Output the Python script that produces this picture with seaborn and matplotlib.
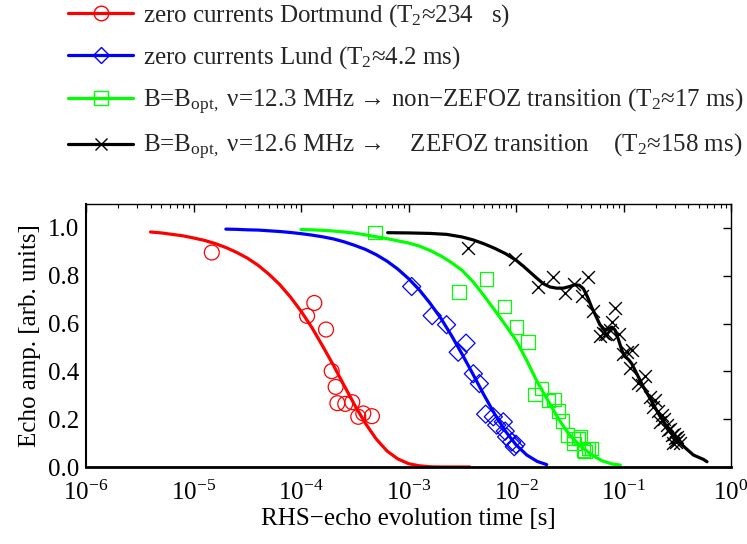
import numpy as np
import pandas as pd
import matplotlib
matplotlib.use("Agg")
import matplotlib.pyplot as plt
from matplotlib.lines import Line2D
from matplotlib.ticker import LogLocator, FixedLocator, NullFormatter
import seaborn as sns

# ---- measured echo amplitudes (time in s, amplitude in arb. units) ----
dortmund_t = [1.48e-5, 1.14e-4, 1.33e-4, 1.71e-4, 1.93e-4, 2.10e-4, 2.18e-4,
              2.58e-4, 3.00e-4, 3.41e-4, 3.80e-4, 4.57e-4]
dortmund_a = [0.897, 0.632, 0.686, 0.575, 0.401, 0.335, 0.267,
              0.264, 0.271, 0.210, 0.224, 0.2125]

lund_t = [1.07e-3, 1.66e-3, 2.26e-3, 2.90e-3, 3.43e-3, 4.01e-3, 4.56e-3, 5.22e-3,
          6.15e-3, 6.61e-3, 7.62e-3, 7.94e-3, 8.18e-3, 9.12e-3, 9.64e-3, 1.00e-2]
lund_a = [0.755, 0.633, 0.595, 0.480, 0.518, 0.390, 0.349, 0.221,
          0.210, 0.175, 0.189, 0.150, 0.126, 0.105, 0.085, 0.095]

nonzefoz_t = [4.88e-4, 2.95e-3, 5.33e-3, 7.78e-3, 1.01e-2, 1.29e-2, 1.50e-2,
              1.73e-2, 2.00e-2, 2.25e-2, 2.48e-2, 2.72e-2, 3.00e-2, 3.41e-2,
              3.47e-2, 3.80e-2, 3.99e-2, 4.23e-2, 4.39e-2, 4.71e-2, 5.06e-2]
nonzefoz_a = [0.980, 0.733, 0.786, 0.671, 0.585, 0.522, 0.303,
              0.328, 0.279, 0.283, 0.235, 0.192, 0.133, 0.120,
              0.099, 0.120, 0.126, 0.071, 0.064, 0.078, 0.078]

zefoz_t = [3.60e-3, 9.79e-3, 1.61e-2, 2.22e-2, 2.86e-2, 3.47e-2, 4.08e-2, 4.71e-2,
           5.24e-2, 6.04e-2, 6.40e-2, 6.73e-2, 6.97e-2, 7.48e-2, 7.76e-2, 8.41e-2,
           9.12e-2, 9.95e-2, 0.107, 0.119, 0.115, 0.137, 0.158, 0.148, 0.177,
           0.196, 0.190, 0.209, 0.226, 0.219, 0.240, 0.252, 0.261, 0.272, 0.281,
           0.292, 0.301, 0.313, 0.324, 0.291, 0.309, 0.339]
zefoz_a = [0.915, 0.872, 0.754, 0.793, 0.728, 0.765, 0.714, 0.796,
           0.652, 0.550, 0.562, 0.557, 0.557, 0.571, 0.608, 0.667,
           0.557, 0.474, 0.480, 0.490, 0.415, 0.352, 0.380, 0.342, 0.293,
           0.279, 0.251, 0.235, 0.217, 0.189, 0.200, 0.175, 0.154, 0.160, 0.133,
           0.140, 0.120, 0.125, 0.112, 0.099, 0.105, 0.100]

# ---- fitted decay curves ----
dortmund_fit_t = [3.98e-6, 5.01e-6, 6.31e-6, 7.94e-6, 1.00e-5, 1.26e-5, 1.58e-5,
                  2.00e-5, 2.51e-5, 3.16e-5, 3.98e-5, 5.01e-5, 6.31e-5, 7.94e-5,
                  1.00e-4, 1.26e-4, 1.58e-4, 2.00e-4, 2.51e-4, 3.16e-4, 3.98e-4,
                  5.01e-4, 6.31e-4, 7.94e-4, 1.00e-3, 1.26e-3, 1.58e-3, 2.00e-3,
                  2.51e-3, 3.72e-3]
dortmund_fit_a = [0.983, 0.979, 0.973, 0.967, 0.958, 0.948, 0.935,
                  0.918, 0.898, 0.874, 0.844, 0.807, 0.764, 0.712,
                  0.652, 0.584, 0.508, 0.426, 0.342, 0.259, 0.182,
                  0.117, 0.067, 0.034, 0.014, 0.005, 0.001, 0.000,
                  0.000, 0.000]

lund_fit_t = [2.00e-5, 2.51e-5, 3.16e-5, 3.98e-5, 5.01e-5, 6.31e-5, 7.94e-5,
              1.00e-4, 1.26e-4, 1.58e-4, 2.00e-4, 2.51e-4, 3.16e-4, 3.98e-4,
              5.01e-4, 6.31e-4, 7.94e-4, 1.00e-3, 1.26e-3, 1.58e-3, 2.00e-3,
              2.51e-3, 3.16e-3, 3.98e-3, 5.01e-3, 6.31e-3, 7.94e-3, 1.00e-2,
              1.26e-2, 1.58e-2, 1.93e-2]
lund_fit_a = [0.995, 0.994, 0.992, 0.991, 0.988, 0.985, 0.981,
              0.976, 0.970, 0.963, 0.954, 0.942, 0.927, 0.910,
              0.888, 0.861, 0.828, 0.788, 0.741, 0.686, 0.622,
              0.550, 0.471, 0.388, 0.303, 0.223, 0.151, 0.093,
              0.050, 0.023, 0.010]

nonzefoz_fit_t = [1.00e-4, 1.26e-4, 1.58e-4, 2.00e-4, 2.51e-4, 3.16e-4, 3.98e-4,
                  5.01e-4, 6.31e-4, 7.94e-4, 1.00e-3, 1.26e-3, 1.58e-3, 2.00e-3,
                  2.51e-3, 3.16e-3, 3.98e-3, 5.01e-3, 6.31e-3, 7.94e-3, 1.00e-2,
                  1.26e-2, 1.58e-2, 2.00e-2, 2.51e-2, 3.16e-2, 3.98e-2, 5.01e-2,
                  6.31e-2, 7.94e-2, 9.33e-2]
nonzefoz_fit_a = [0.993, 0.992, 0.990, 0.987, 0.983, 0.978, 0.971,
                  0.963, 0.955, 0.946, 0.937, 0.924, 0.906, 0.883,
                  0.855, 0.822, 0.775, 0.718, 0.657, 0.595, 0.530,
                  0.445, 0.355, 0.275, 0.198, 0.133, 0.088, 0.052,
                  0.026, 0.012, 0.008]

zefoz_fit_t = [6.40e-4, 1.00e-3, 1.58e-3, 2.26e-3, 3.16e-3, 3.98e-3, 5.01e-3,
               6.31e-3, 7.94e-3, 1.00e-2, 1.17e-2, 1.35e-2, 1.56e-2, 1.79e-2,
               2.07e-2, 2.39e-2, 2.75e-2, 3.16e-2, 3.54e-2, 3.89e-2, 4.23e-2,
               4.62e-2, 5.06e-2, 5.62e-2, 6.04e-2, 6.61e-2, 7.23e-2, 7.76e-2,
               8.32e-2, 8.95e-2, 9.62e-2, 0.103, 0.111, 0.119, 0.133, 0.153,
               0.177, 0.211, 0.252, 0.301, 0.361, 0.447, 0.553, 0.598]
zefoz_fit_a = [0.980, 0.979, 0.977, 0.973, 0.962, 0.950, 0.934,
               0.915, 0.893, 0.865, 0.840, 0.815, 0.790, 0.767,
               0.753, 0.748, 0.748, 0.755, 0.762, 0.760, 0.746,
               0.712, 0.668, 0.625, 0.595, 0.576, 0.576, 0.585, 0.574,
               0.535, 0.490, 0.462, 0.450, 0.433, 0.390, 0.335,
               0.286, 0.224, 0.168, 0.120, 0.087, 0.050, 0.032, 0.022]

labels = [
    "zero currents Dortmund (T$_\\mathrm{2}$≈234   s)",
    "zero currents Lund (T$_\\mathrm{2}$≈4.2 ms)",
    "B=B$_{\\mathrm{opt},}$ ν=12.3 MHz → non−ZEFOZ transition (T$_\\mathrm{2}$≈17 ms)",
    "B=B$_{\\mathrm{opt},}$ ν=12.6 MHz →    ZEFOZ transition    (T$_\\mathrm{2}$≈158 ms)",
]
colors = ["#ff0000", "#0000ff", "#00ff00", "#000000"]
markers = ["o", "D", "s", "x"]

xticks = [1e-6, 1e-5, 1e-4, 1e-3, 1e-2, 1e-1, 1e0]
yticks = [0.0, 0.2, 0.4, 0.6, 0.8, 1.0]

sns.set_theme(style="white")
plt.rcParams["font.family"] = ["Liberation Serif", "DejaVu Serif"]
plt.rcParams["mathtext.fontset"] = "custom"
plt.rcParams["mathtext.rm"] = "Liberation Serif"
plt.rcParams["mathtext.it"] = "Liberation Serif:italic"
plt.rcParams["mathtext.bf"] = "Liberation Serif:bold"
FS = 18

fig = plt.figure(figsize=(7.47, 5.44), dpi=100)
ax = fig.add_axes([86 / 747, 1 - 467 / 544, 645 / 747, 263 / 544])

fits = [(dortmund_fit_t, dortmund_fit_a), (lund_fit_t, lund_fit_a),
        (nonzefoz_fit_t, nonzefoz_fit_a), (zefoz_fit_t, zefoz_fit_a)]
meas = [(dortmund_t, dortmund_a), (lund_t, lund_a),
        (nonzefoz_t, nonzefoz_a), (zefoz_t, zefoz_a)]
msize = [115, 85, 95, 85]

for (ft, fa), c in zip(fits, colors):
    df = pd.DataFrame({"t": ft, "a": fa})
    sns.lineplot(data=df, x="t", y="a", ax=ax, color=c, lw=2.3,
                 estimator=None, sort=False)

for (mt, ma), c, m, s in zip(meas, colors, markers, msize):
    df = pd.DataFrame({"t": mt, "a": ma})
    if m == "x":
        sns.scatterplot(data=df, x="t", y="a", ax=ax, marker="x", s=s,
                        color=c, linewidth=1.0, zorder=3)
    else:
        sns.scatterplot(data=df, x="t", y="a", ax=ax, marker=m, s=s,
                        fc="none", ec=c, linewidth=0.9, zorder=3)

ax.set_xscale("log")
ax.set_xlim(1e-6, 1e0)
ax.set_ylim(0, 1.1)
ax.xaxis.set_major_locator(FixedLocator(xticks))
ax.xaxis.set_minor_locator(LogLocator(base=10, subs=np.arange(2, 10), numticks=20))
ax.xaxis.set_minor_formatter(NullFormatter())
ax.set_yticks(yticks)
ax.set_yticklabels([f"{v:.1f}" for v in yticks])

ax.tick_params(axis="both", which="both", direction="in", top=True, right=True,
               labelsize=FS, colors="black")
ax.tick_params(axis="both", which="major", length=6, width=1.0)
ax.tick_params(axis="y", which="major", pad=5)
ax.tick_params(axis="x", which="major", pad=10)
ax.tick_params(axis="x", which="minor", length=3, width=0.8)
for sp in ax.spines.values():
    sp.set_color("black")
    sp.set_linewidth(1.0)
ax.spines["bottom"].set_linewidth(2.0)
ax.spines["left"].set_linewidth(1.5)

ax.set_xlabel("RHS−echo evolution time [s]", fontsize=FS, color="black", labelpad=2)
ax.set_ylabel("Echo amp. [arb. units]", fontsize=FS, color="black", labelpad=5)

handles = [Line2D([], [], color=c, lw=2.3, marker=m, markersize=ms,
                  markerfacecolor="none", markeredgecolor=c, markeredgewidth=1.0)
           for c, m, ms in zip(colors, markers, [10.5, 8.5, 9.5, 9])]
leg = fig.legend(handles, labels, loc="upper left",
                 bbox_to_anchor=(68 / 747, 1 - 2 / 544), frameon=False,
                 fontsize=FS, handlelength=2.6, handletextpad=0.4,
                 labelspacing=0.62, borderpad=0, borderaxespad=0)

fig.savefig("out.png", dpi=100)
